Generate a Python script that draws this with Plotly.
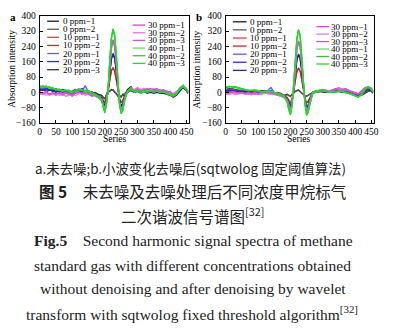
import plotly.graph_objects as go

W, H = 396, 335

# Sample positions (finer sampling around the absorption line)
series_x = [0, 10, 20, 30, 40, 50, 60, 70, 80, 90, 100, 110, 120, 130, 140, 150, 160, 170, 180,
            190, 195, 200, 205, 210, 215, 220, 225, 230, 235, 240, 245, 250, 255, 260, 265, 270,
            280, 290, 300, 310, 320, 330, 340, 350, 360, 370, 380, 390, 400, 410, 420, 430, 440, 450, 455]

labels = ["0 ppm−1", "0 ppm−2", "10 ppm−1", "10 ppm−2", "20 ppm−1", "20 ppm−2", "20 ppm−3",
          "30 ppm−1", "30 ppm−2", "30 ppm−3", "40 ppm−1", "40 ppm−2", "40 ppm−3"]
colors = ["#1a1a1a", "#5a5a5a", "#e04040", "#c02a2a", "#5a5aff", "#2c2cd8", "#2a2a86",
          "#e040e0", "#e07ae0", "#cc55cc", "#66dd66", "#3fbb3f", "#22dd22"]

# a: raw signals
a_0_1 = [20, 30, 15, 25, 10, 20, 5, 15, 10, 0, 5, 15, 10, 20, 5, 10, -5, 0, -10,
         -15, -25, -35, -10, 10, 5, 15, 12, 0, -5, -20, -15, -25, -10, -20, 0, 15,
         30, 5, 15, 0, 20, 5, 10, 0, 15, 5, 10, 0, 5, -15, 0, 10, 30, 15, 5]
a_0_2 = [15, 20, 25, 10, 20, 5, 15, 10, 5, 10, 0, 10, 15, 5, 10, 0, 5, -10, -15,
         -20, -30, -30, -15, 0, 10, 10, 15, 5, -10, -15, -25, -20, -15, -5, -10, 5,
         20, 10, 5, 15, 5, 10, 0, 10, 5, 0, 5, -5, 0, -10, 5, 15, 25, 10, 0]
a_10_1 = [10, 20, 5, 15, 10, 5, 10, 0, 8, 0, -5, 5, 10, 5, 0, 5, -5, -10, -20,
          -25, -40, -55, -35, 0, 60, 110, 130, 115, 70, 15, -30, -50, -45, -25, -10, 0,
          15, 5, 10, 0, 10, 5, 5, 0, 10, 5, 5, -5, -5, -15, -5, 15, 30, 15, 0]
a_10_2 = [5, 15, 10, 20, 5, 10, 0, 10, 5, -5, 0, 10, 5, 10, 5, 0, -10, -5, -25,
          -30, -45, -50, -30, 5, 65, 115, 128, 110, 65, 10, -35, -52, -40, -20, -5, 5,
          10, 0, 5, 5, 5, 0, 10, 5, 5, 0, 0, -5, -10, -20, -10, 10, 25, 10, -5]
a_20_1 = [15, 25, 10, 20, 15, 5, 15, 5, 10, 5, -5, 10, 20, 5, 35, 0, -5, -10, -20,
          -30, -55, -75, -45, 10, 100, 175, 205, 185, 120, 35, -40, -75, -65, -35, -10, 5,
          20, 10, 15, 5, 15, 5, 10, 5, 10, 5, 5, 0, -5, -15, -5, 15, 35, 20, 5]
a_20_2 = [20, 10, 20, 15, 5, 10, 5, 10, 0, 5, 0, 5, 15, 10, 5, 5, -10, -5, -15,
          -35, -55, -72, -40, 15, 105, 178, 200, 180, 115, 30, -45, -72, -60, -30, -8, 0,
          15, 5, 10, 0, 10, 0, 5, 0, 5, 0, 0, -5, -10, -20, -10, 10, 30, 15, 0]
a_20_3 = [10, 15, 5, 10, 10, 0, 10, 0, 5, -5, -10, 5, 10, 0, 10, -5, -10, -15, -25,
          -30, -50, -70, -42, 12, 98, 172, 198, 178, 118, 32, -42, -70, -62, -32, -12, 2,
          10, 0, 5, -5, 5, -5, 0, -5, 0, -5, -5, -10, -15, -25, -15, 5, 25, 10, -5]
a_30_1 = [-5, -10, 0, -15, -5, -15, -5, -15, -5, -10, -20, -5, 0, -10, -5, -10, -20, -15, -25,
          -35, -65, -90, -55, 15, 130, 230, 275, 245, 160, 45, -55, -92, -80, -40, -10, 5,
          25, 10, 20, 10, 15, 15, 20, 10, 15, 10, 10, 5, 0, -10, 0, 20, 35, 15, 5]
a_30_2 = [-10, -5, -15, -5, -10, -5, -15, -10, -20, -15, -10, -15, -5, -5, -15, -5, -15, -20, -30,
          -38, -62, -88, -50, 18, 135, 235, 270, 240, 155, 40, -58, -90, -78, -38, -12, 8,
          20, 15, 25, 15, 20, 10, 15, 20, 10, 15, 5, 10, -5, -5, 5, 15, 30, 20, 0]
a_30_3 = [0, -5, 5, -10, 0, -10, 0, -10, 0, -5, -15, 0, 5, -5, 0, -5, -15, -10, -20,
          -32, -66, -92, -52, 14, 128, 228, 272, 242, 158, 42, -52, -88, -82, -42, -8, 3,
          15, 5, 15, 5, 10, 20, 10, 15, 20, 5, 15, 0, 5, -15, -5, 25, 30, 10, 5]
a_40_1 = [30, 25, 35, 20, 28, 12, 18, 5, 15, 8, 0, 10, 18, 12, 5, 8, -5, -10, -20,
          -40, -75, -105, -60, 20, 165, 280, 330, 300, 200, 60, -60, -110, -92, -48, -12, 5,
          20, 5, 10, 0, 8, 5, 10, 2, 8, 0, 5, -5, -10, -18, -5, 20, 35, 15, 5]
a_40_2 = [25, 35, 25, 30, 20, 18, 10, 12, 8, 12, 5, 5, 15, 8, 10, 2, 0, -15, -25,
          -42, -78, -102, -58, 22, 160, 275, 325, 295, 195, 55, -65, -108, -95, -45, -15, 8,
          15, 10, 5, 5, 5, 0, 5, 5, 5, 5, 0, 0, -15, -20, -10, 15, 30, 20, 0]
a_40_3 = [35, 28, 30, 25, 22, 15, 15, 8, 10, 5, -2, 12, 12, 15, 0, 5, -8, -8, -22,
          -38, -72, -108, -62, 18, 168, 285, 332, 302, 205, 62, -58, -112, -90, -50, -10, 3,
          25, 0, 12, -5, 10, 8, 8, 0, 10, -2, 8, -8, -8, -15, -2, 22, 38, 12, 8]

# b: after wavelet denoising
b_0_1 = [15, 20, 18, 15, 10, 12, 8, 10, 5, 8, 5, 10, 5, 8, 2, 0, -2, -5, -15,
         -10, -15, -20, -10, 0, 5, 10, 12, 5, -5, -15, -20, -20, -15, -10, -5, 0,
         10, 5, 8, 5, 0, 2, 5, 8, 5, 0, -5, -10, -15, -20, -15, -5, 5, 10, 0]
b_0_2 = [12, 15, 20, 12, 12, 8, 10, 5, 8, 5, 8, 5, 8, 5, 5, -2, 0, -8, -18,
         -12, -18, -22, -12, -2, 5, 8, 10, 5, -5, -12, -18, -20, -15, -12, -5, 0,
         8, 8, 5, 2, 2, 0, 5, 5, 2, 0, -2, -8, -12, -18, -12, -2, 8, 8, 2]
b_10_1 = [10, 12, 15, 10, 8, 5, 5, 2, 5, 0, 2, 5, 0, 5, 0, -2, -5, -8, -18,
          -25, -40, -55, -35, 0, 60, 108, 128, 112, 68, 12, -32, -52, -45, -28, -12, 0,
          5, 8, 5, 2, 0, 5, 10, 12, 5, 5, 0, -5, -10, -15, -5, 10, 20, 15, 0]
b_10_2 = [5, 10, 12, 8, 5, 8, 2, 5, 0, 5, 0, 2, 5, 0, -2, -5, -8, -10, -20,
          -28, -42, -58, -38, 2, 62, 110, 126, 110, 66, 10, -35, -55, -48, -30, -10, 2,
          2, 5, 5, 0, 2, 2, 8, 10, 8, 2, -2, -8, -12, -18, -8, 5, 18, 12, -2]
b_20_1 = [10, 15, 12, 10, 5, 10, 2, 8, 0, 5, -5, 0, 5, 10, 25, 0, -5, -10, -20,
          -35, -55, -78, -48, 10, 98, 172, 200, 180, 118, 30, -45, -80, -68, -40, -15, 0,
          5, 10, 8, 5, 5, 10, 15, 10, 5, 8, 5, -5, -10, -15, -5, 15, 25, 15, 5]
b_20_2 = [8, 12, 10, 5, 8, 5, 5, 2, 5, -2, 0, 5, 0, 5, 10, -5, -8, -12, -22,
          -32, -52, -75, -45, 12, 100, 175, 198, 178, 115, 28, -42, -78, -65, -38, -12, 2,
          2, 8, 5, 2, 2, 5, 10, 8, 2, 5, 0, -8, -12, -18, -8, 10, 22, 10, 0]
b_20_3 = [5, 8, 5, 8, 2, 5, 0, 5, -5, 0, -8, -2, 5, 0, 5, -8, -10, -15, -25,
          -38, -58, -80, -50, 8, 95, 170, 196, 176, 112, 25, -48, -82, -70, -42, -18, -2,
          0, 5, 2, 0, 0, 2, 5, 5, 0, 2, -2, -10, -15, -20, -10, 5, 15, 8, -5]
b_30_1 = [-10, -5, 0, -5, -8, -2, -10, -5, -12, -5, -10, -5, 0, -8, -5, -10, -15, -18, -25,
          -40, -70, -95, -60, 15, 128, 225, 265, 238, 155, 40, -58, -98, -85, -48, -18, 0,
          5, 10, 15, 10, 5, 15, 20, 25, 15, 20, 10, 5, 0, -10, 5, 25, 30, 20, 5]
b_30_2 = [-5, -10, -5, -10, -5, -8, -5, -10, -8, -10, -5, -10, -5, -5, -10, -8, -12, -20, -28,
          -42, -72, -98, -62, 12, 125, 222, 262, 235, 152, 38, -60, -100, -88, -50, -20, -2,
          2, 8, 12, 8, 8, 10, 15, 20, 20, 15, 12, 2, -5, -5, 10, 20, 28, 15, 2]
b_30_3 = [0, -2, 5, 0, -2, 0, -5, 0, -5, 0, -5, 0, 5, 0, 0, -5, -10, -15, -22,
          -38, -68, -92, -58, 18, 130, 228, 268, 240, 158, 42, -55, -95, -82, -45, -15, 2,
          8, 12, 10, 12, 2, 12, 18, 15, 10, 18, 8, 0, -2, -8, 8, 22, 25, 18, 8]
b_40_1 = [30, 30, 32, 30, 25, 20, 15, 10, 12, 15, 10, 5, 0, 10, 5, 0, -5, -10, -20,
          -50, -90, -115, -70, 30, 160, 280, 325, 295, 195, 60, -60, -118, -100, -60, -25, 0,
          5, 10, 8, 5, 0, 2, 5, 8, 5, 0, -5, -10, -20, -25, -10, 15, 30, 20, 5]
b_40_2 = [25, 28, 30, 28, 22, 18, 12, 8, 10, 12, 8, 2, 2, 8, 2, -2, -8, -12, -22,
          -52, -92, -112, -68, 28, 158, 278, 322, 292, 192, 58, -62, -120, -102, -62, -28, -2,
          2, 8, 8, 5, 2, 0, 5, 5, 5, 2, -2, -8, -15, -22, -12, 12, 28, 22, 8]
b_40_3 = [28, 32, 28, 25, 22, 15, 15, 12, 10, 10, 8, 5, -2, 5, 5, -2, -5, -15, -25,
          -48, -88, -118, -72, 32, 162, 282, 328, 298, 198, 62, -58, -116, -98, -58, -22, 2,
          8, 10, 12, 5, 2, 5, 2, 8, 5, 0, -5, -12, -18, -25, -8, 18, 32, 18, 2]

x_ticks = [0, 50, 100, 150, 200, 250, 300, 350, 400, 450]
y_ticks = [-160, -80, 0, 80, 160, 240, 320, 400]

panel_a = [a_0_1, a_0_2, a_10_1, a_10_2, a_20_1, a_20_2, a_20_3,
           a_30_1, a_30_2, a_30_3, a_40_1, a_40_2, a_40_3]
panel_b = [b_0_1, b_0_2, b_10_1, b_10_2, b_20_1, b_20_2, b_20_3,
           b_30_1, b_30_2, b_30_3, b_40_1, b_40_2, b_40_3]


def px_x(p):
    return p / W


def px_y(p):
    return 1 - p / H


SERIF = "Liberation Serif, Times New Roman, serif"
CJK = "Noto Sans CJK SC, sans-serif"

fig = go.Figure()
for axis_id, data in (("", panel_a), ("2", panel_b)):
    for lab, col, ys in zip(labels, colors, data):
        fig.add_trace(go.Scatter(x=series_x, y=ys, mode="lines", name=lab,
                                 line=dict(color=col, width=1.3),
                                 xaxis="x" + axis_id, yaxis="y" + axis_id,
                                 showlegend=False))

axis_common = dict(showline=True, mirror=True, linecolor="black", linewidth=1,
                   ticks="inside", ticklen=3, tickcolor="black", showgrid=False,
                   zeroline=False, tickangle=0,
                   tickfont=dict(family=SERIF, size=9.5, color="black"))

y_dom = [px_y(121.7), px_y(11)]
fig.update_layout(
    width=W, height=H, margin=dict(l=0, r=0, t=0, b=0),
    paper_bgcolor="white", plot_bgcolor="white", showlegend=False,
    xaxis=dict(domain=[px_x(38.3), px_x(190)], range=[0, 457], tickvals=x_ticks,
               anchor="y", ticklabelstandoff=0, **axis_common),
    yaxis=dict(domain=y_dom, range=[-160, 400], tickvals=y_ticks, anchor="x",
               ticklabelstandoff=1, **axis_common),
    xaxis2=dict(domain=[px_x(227.7), px_x(378.3)], range=[0, 457], tickvals=x_ticks,
                anchor="y2", ticklabelstandoff=0, **axis_common),
    yaxis2=dict(domain=y_dom, range=[-160, 400], tickvals=y_ticks, anchor="x2",
                ticklabelstandoff=1, **axis_common),
)

shapes = []
annotations = []


def text(x, y, s, size, family=SERIF, xanchor="center", angle=0, color="black"):
    annotations.append(dict(x=px_x(x), y=px_y(y), xref="paper", yref="paper", text=s,
                            showarrow=False, xanchor=xanchor, yanchor="middle",
                            textangle=angle, borderpad=0,
                            font=dict(family=family, size=size, color=color)))


# Legends drawn as short line swatches with labels, two columns per panel
legend_cols = [
    # (line x0, line x1, text x, row ys, series indices)
    (46, 58, 61, [16.7, 25, 33.3, 41.7, 50, 58.3, 66.7], range(0, 7)),
    (133, 146, 148, [20.7, 28.6, 36.5, 44.4, 52.3, 60.2], range(7, 13)),
    (235, 249, 251, [17.3, 25.6, 34, 42.3, 50.7, 59, 67.4], range(0, 7)),
    (320, 333, 334, [22.3, 30, 37.7, 45.4, 53.1, 60.8], range(7, 13)),
]
for x0, x1, tx, rows, idx in legend_cols:
    for yy, i in zip(rows, idx):
        shapes.append(dict(type="line", xref="paper", yref="paper",
                           x0=px_x(x0), x1=px_x(x1), y0=px_y(yy), y1=px_y(yy),
                           line=dict(color=colors[i], width=1.3)))
        text(tx, yy, labels[i], 9, xanchor="left")

# Panel letters and axis titles
text(11, 12, "<b>a</b>", 11)
text(201, 12, "<b>b</b>", 11)
text(10, 66, "Absorption intensity", 9.5, angle=-90)
text(199, 66, "Absorption intensity", 9.5, angle=-90)
text(115, 138, "Series", 9.5)
text(302, 138, "Series", 9.5)

# Figure caption
cap = "#222222"
text(192, 168, "a.未去噪;b.小波变化去噪后(sqtwolog 固定阈值算法)", 13.4, family=CJK, color=cap)
text(194, 192, "<b>图 5</b>\u3000未去噪及去噪处理后不同浓度甲烷标气", 15.5, family=CJK, color=cap)
text(194, 216, "二次谐波信号谱图<sup>[32]</sup>", 15.5, family=CJK, color=cap)
text(195, 243, "<b>Fig.5</b>\u2003Second harmonic signal spectra of methane", 15.5, color=cap)
text(194, 268, "standard gas with different concentrations obtained", 15.5, color=cap)
text(194, 292, "without denoising and after denoising by wavelet", 15.5, color=cap)
text(193, 317, "transform with sqtwolog fixed threshold algorithm<sup>[32]</sup>", 15.5, color=cap)

fig.update_layout(shapes=shapes, annotations=annotations)
fig.write_html("out.html")
